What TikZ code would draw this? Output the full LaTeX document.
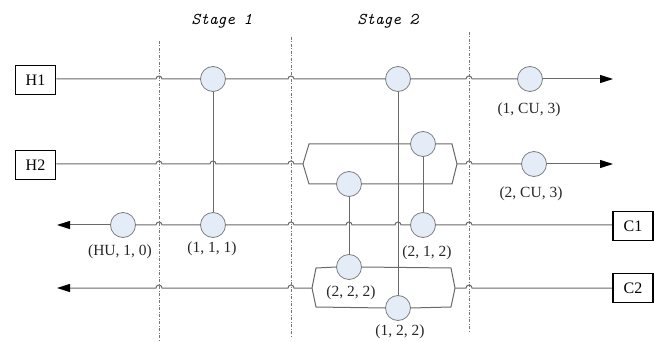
\documentclass[tikz,border=0pt]{standalone}
\usepackage{fontspec}
\setmainfont{Liberation Serif}
\usetikzlibrary{arrows.meta}
\definecolor{hxfill}{RGB}{228,236,247}
\definecolor{hxline}{RGB}{125,125,125}
\definecolor{streamcol}{RGB}{105,105,105}
\definecolor{gridcol}{RGB}{120,120,120}
% hop over a crossing line: R = stream runs left to right, L = right to left
\newcommand\hopR[2]{-- (#1-3,#2) arc[start angle=180,end angle=0,radius=3pt]}
\newcommand\hopL[2]{-- (#1+3,#2) arc[start angle=0,end angle=180,radius=3pt]}
\tikzset{
  hx/.style={circle,draw=hxline,fill=hxfill,line width=0.8pt,minimum size=25pt,inner sep=0pt},
  streambox/.style={draw=black,line width=1.8pt,minimum width=40pt,minimum height=29pt,inner sep=0pt,font=\fontsize{16}{16}\selectfont},
  stream/.style={draw=streamcol,line width=1pt},
  link/.style={draw=streamcol,line width=1pt},
  tip/.style={-{Triangle[length=13pt,width=8pt,color=black]}},
  stageline/.style={draw=gridcol,line width=0.6pt,dash pattern=on 3pt off 1.5pt on 1pt off 1.5pt},
  lbl/.style={font=\fontsize{15.5}{15.5}\selectfont,text=black!85,inner sep=0pt},
  stagelbl/.style={font=\ttfamily\itshape\fontsize{16.5}{16.5}\selectfont,inner sep=0pt}
}
\begin{document}
\begin{tikzpicture}[x=1pt,y=-1pt]
\useasboundingbox (0,0) rectangle (654,342);

% stage boundaries
\coordinate (d1t) at (159,41);  \coordinate (d1b) at (159,341);
\coordinate (d2t) at (291,37);  \coordinate (d2b) at (291,336);
\coordinate (d3t) at (469,32);  \coordinate (d3b) at (469,333);
\draw[stageline] (d1t) -- (d1b);
\draw[stageline] (d2t) -- (d2b);
\draw[stageline] (d3t) -- (d3b);
\node[stagelbl] (st1) at (222,21) {Stage 1};
\node[stagelbl] (st2) at (388,21) {Stage 2};

% terminal boxes
\node[streambox] (H1) at (35.5,80) {H1};
\node[streambox] (H2) at (35.5,165) {H2};
\node[streambox] (C1) at (633,226) {C1};
\node[streambox] (C2) at (633,288) {C2};

% exchangers and utilities
\node[hx] (s1h) at (213,79) {};
\node[hx] (s1c) at (213,225) {};
\node[hx] (hu)  at (123,225) {};
\node[hx] (s2h) at (398,79) {};
\node[hx] (e122) at (398,308) {};
\node[hx] (e212h) at (423,144) {};
\node[hx] (e212c) at (423,225) {};
\node[hx] (e222h) at (349,184) {};
\node[hx] (e222c) at (349,267) {};
\node[hx] (cu1) at (530,79) {};
\node[hx] (cu2) at (534,164) {};

% stream ends and split points
\coordinate (h1end) at (613,79);
\coordinate (h2end) at (613,164);
\coordinate (c1end) at (57,225);
\coordinate (c2end) at (57,288);
\coordinate (h2s) at (303,164);
\coordinate (h2m) at (457,164);
\coordinate (c2s) at (455,288);
\coordinate (c2m) at (312,288);

% match links
\draw[link] (s1h) -- (s1c);
\draw[link] (s2h) -- (e122);
\draw[link] (e212h) -- (e212c);
\draw[link] (e222h) -- (e222c);

% hot stream H1
\draw[stream] (H1.east |- s1h) \hopR{159}{79} -- (s1h.west);
\draw[stream] (s1h.east) \hopR{291}{79} -- (s2h.west);
\draw[stream] (s2h.east) \hopR{469}{79} -- (cu1.west);
\draw[stream,tip] (cu1.east) -- (h1end);

% hot stream H2 with split
\draw[stream] (H2.east |- h2s) \hopR{159}{164} \hopR{213}{164} \hopR{291}{164} -- (h2s);
\draw[stream] (h2s) -- (309,144) -- (e212h.west);
\draw[stream] (e212h.east) -- (452,144) -- (h2m);
\draw[stream] (h2s) -- (309,184) -- (e222h.west);
\draw[stream] (e222h.east) -- (452,184) -- (h2m);
\draw[stream] (h2m) \hopR{469}{164} -- (cu2.west);
\draw[stream,tip] (cu2.east) -- (h2end);

% cold stream C1
\draw[stream] (C1.west |- e212c) \hopL{469}{225} -- (e212c.east);
\draw[stream] (e212c.west) \hopL{398}{225} \hopL{349}{225} \hopL{291}{225} -- (s1c.east);
\draw[stream] (s1c.west) \hopL{159}{225} -- (hu.east);
\draw[stream,tip] (hu.west) -- (c1end);

% cold stream C2 with split
\draw[stream] (C2.west) \hopL{469}{288} -- (c2s);
\draw[stream] (c2s) -- (451,268) -- (e222c.east);
\draw[stream] (e222c.west) -- (316,268) -- (c2m);
\draw[stream] (c2s) -- (451,307) -- (e122.east);
\draw[stream] (e122.west) -- (316,307) -- (c2m);
\draw[stream,tip] (c2m) \hopL{291}{288} \hopL{159}{288} -- (c2end);

% labels
\node[lbl] (l1) at (529,110) {(1, CU, 3)};
\node[lbl] (l2) at (531,194) {(2, CU, 3)};
\node[lbl] (l3) at (120,252) {(HU, 1, 0)};
\node[lbl] (l4) at (212,249) {(1, 1, 1)};
\node[lbl] (l5) at (427,253) {(2, 1, 2)};
\node[lbl] (l6) at (351,293) {(2, 2, 2)};
\node[lbl] (l7) at (400,332) {(1, 2, 2)};
\end{tikzpicture}
\end{document}
